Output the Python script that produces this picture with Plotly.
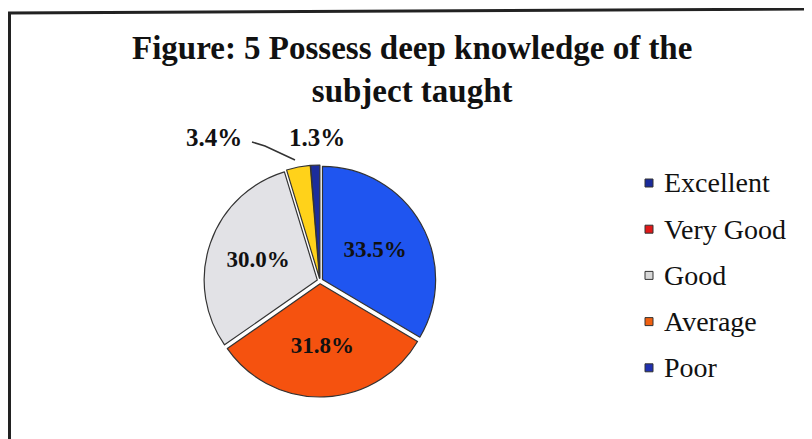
import plotly.graph_objects as go

W, H = 812, 439
OFF = 8  # page body margin

categories = ["Excellent", "Very Good", "Good", "Average", "Poor"]
values = [33.5, 31.8, 30.0, 3.4, 1.3]
slice_colors = ["#1f55f0", "#f5520f", "#e2e2e6", "#ffd21a", "#1c2d9c"]
legend_colors = ["#1a2a9a", "#e01818", "#d8d8d8", "#f06010", "#2030b0"]
title_text = "Figure: 5 Possess deep knowledge of the<br>subject taught"

def px(x):
    return (x - OFF) / W

def py(y):
    return 1 - (y - OFF) / H

serif = "Liberation Serif, Times New Roman, serif"
labels_text = [f"{v:.1f}%" for v in values]
inside_text = [t if v > 10 else "" for t, v in zip(labels_text, values)]

fig = go.Figure()
fig.add_trace(go.Pie(
    labels=categories,
    values=values,
    sort=False,
    direction="clockwise",
    rotation=0,
    text=inside_text,
    textinfo="text",
    textposition="inside",
    insidetextorientation="horizontal",
    textfont=dict(family=serif, size=23, color="#111111", weight="bold"),
    marker=dict(colors=slice_colors, line=dict(color="#333333", width=1.2)),
    pull=[0.025] * len(values),
    domain=dict(x=[px(204), px(436)], y=[py(397), py(165)]),
    showlegend=False,
    hoverinfo="label+percent",
))

shapes = []
annotations = []

# outer frame
shapes.append(dict(type="path", xref="paper", yref="paper",
                   path=f"M {px(9.5)} {py(445)} L {px(9.5)} {py(13)} L {px(820)} {py(9)}",
                   line=dict(color="#222222", width=3)))

# title
annotations.append(dict(x=px(412), y=py(70), xref="paper", yref="paper",
                        text=title_text, showarrow=False, xanchor="center", yanchor="middle",
                        align="center",
                        font=dict(family=serif, size=33, color="#111", weight="bold")))

# outside labels for small slices
annotations.append(dict(x=px(244), y=py(137), xref="paper", yref="paper",
                        text=labels_text[3], showarrow=False, xanchor="right", yanchor="middle",
                        font=dict(family=serif, size=25, color="#111", weight="bold")))
annotations.append(dict(x=px(287), y=py(137), xref="paper", yref="paper",
                        text=labels_text[4], showarrow=False, xanchor="left", yanchor="middle",
                        font=dict(family=serif, size=25, color="#111", weight="bold")))
shapes.append(dict(type="path", xref="paper", yref="paper",
                   path=f"M {px(252)} {py(142)} L {px(265)} {py(146)} L {px(295)} {py(160)}",
                   line=dict(color="#333333", width=1.5)))

# legend
for i, (cat, col) in enumerate(zip(categories, legend_colors)):
    yc = 183 + i * 46.2
    shapes.append(dict(type="rect", xref="paper", yref="paper",
                       x0=px(645), x1=px(653), y0=py(yc - 4), y1=py(yc + 4),
                       fillcolor=col, line=dict(color="#333333", width=1)))
    annotations.append(dict(x=px(662), y=py(yc), xref="paper", yref="paper",
                            text=cat, showarrow=False, xanchor="left", yanchor="middle",
                            font=dict(family=serif, size=28, color="#111")))

fig.update_layout(
    width=W, height=H,
    margin=dict(l=0, r=0, t=0, b=0),
    paper_bgcolor="white",
    plot_bgcolor="white",
    shapes=shapes,
    annotations=annotations,
)

fig.write_html("out.html")
